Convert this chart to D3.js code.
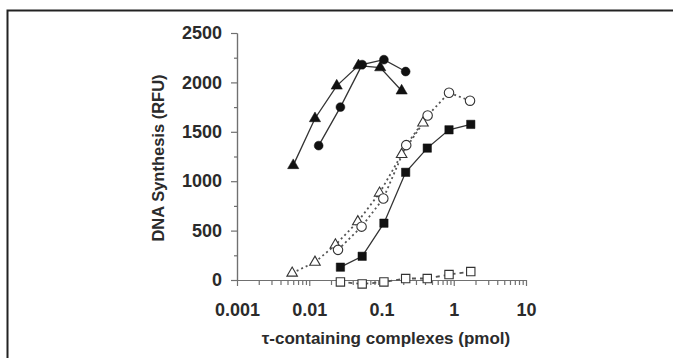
<!DOCTYPE html>
<html>
<head>
<meta charset="utf-8">
<script src="https://cdn.jsdelivr.net/npm/d3@7"></script>
<style>
  body { margin: 0; background: #fff; }
  svg text { font-family: "Liberation Sans", Arial, sans-serif; font-weight: bold; fill: #2b2b2b; }
</style>
</head>
<body>
<div id="chart"></div>
<script>
// tau-complex amounts (pmol) and DNA synthesis (RFU) per series
let triFilledX = [0.006, 0.012, 0.024, 0.048, 0.096, 0.19];
let triFilledY = [1160, 1635, 1965, 2170, 2150, 1915];

let circFilledX = [0.0135, 0.027, 0.054, 0.108, 0.216];
let circFilledY = [1360, 1750, 2180, 2230, 2110];

let sqFilledX = [0.027, 0.054, 0.108, 0.216, 0.43, 0.86, 1.72];
let sqFilledY = [130, 240, 575, 1090, 1335, 1520, 1575];

let circOpenX = [0.025, 0.053, 0.106, 0.22, 0.435, 0.86, 1.68];
let circOpenY = [305, 540, 825, 1365, 1665, 1895, 1815];

let triOpenX = [0.0058, 0.012, 0.023, 0.047, 0.094, 0.19, 0.375];
let triOpenY = [70, 180, 355, 590, 880, 1270, 1590];

let sqOpenX = [0.027, 0.054, 0.108, 0.216, 0.43, 0.86, 1.72];
let sqOpenY = [-20, -40, -20, 15, 15, 55, 85];

let yTicks = [0, 500, 1000, 1500, 2000, 2500];
let yMinorTicks = [250, 750, 1250, 1750, 2250];
let xTicks = [0.001, 0.01, 0.1, 1, 10];
let xTickLabels = ["0.001", "0.01", "0.1", "1", "10"];

let w = 673, h = 358;
let svg = d3.select("#chart").append("svg")
  .attr("width", w)
  .attr("height", h);

// outer frame (left + top)
svg.append("path")
  .attr("d", "M7.5," + h + "V10.5H" + w)
  .attr("fill", "none")
  .attr("stroke", "#222")
  .attr("stroke-width", 2);

let xScale = d3.scaleLog().domain([0.001, 10]).range([237, 526]);
let yScale = d3.scaleLinear().domain([0, 2500]).range([280, 33]);

// minor x ticks 2..9 in each decade
let xMinorTicks = [];
xScale.ticks().forEach(function(t) {
  if (xTicks.indexOf(t) < 0) xMinorTicks.push(t);
});

let axisColor = "#707070";

let xAxis = d3.axisBottom(xScale)
  .tickValues(xTicks)
  .tickFormat(function(d, i) { return xTickLabels[i]; })
  .tickSize(6)
  .tickSizeOuter(0)
  .tickPadding(17);

let xMinor = d3.axisBottom(xScale)
  .tickValues(xMinorTicks)
  .tickFormat("")
  .tickSize(5)
  .tickSizeOuter(0);

let yAxis = d3.axisLeft(yScale)
  .tickValues(yTicks)
  .tickFormat(d3.format("d"))
  .tickSize(6)
  .tickSizeOuter(0)
  .tickPadding(9);

let yMinor = d3.axisLeft(yScale)
  .tickValues(yMinorTicks)
  .tickFormat("")
  .tickSize(3)
  .tickSizeOuter(0);

function styleAxis(g) {
  g.selectAll("path, line").attr("stroke", axisColor).attr("stroke-width", 1.2);
  g.selectAll("text").attr("font-size", "18px").attr("fill", "#2b2b2b")
    .attr("font-family", "Liberation Sans, Arial, sans-serif");
}

svg.append("g").attr("transform", "translate(0,280)").call(xMinor).call(styleAxis);
svg.append("g").attr("transform", "translate(0,280)").call(xAxis).call(styleAxis);
svg.append("g").attr("transform", "translate(237,0)").call(yMinor).call(styleAxis);
svg.append("g").attr("transform", "translate(237,0)").call(yAxis).call(styleAxis);

// axis titles
svg.append("text")
  .attr("transform", "translate(164,158) rotate(-90)")
  .attr("text-anchor", "middle")
  .attr("font-size", "16.5px")
  .text("DNA Synthesis (RFU)");

svg.append("text")
  .attr("x", 386)
  .attr("y", 344)
  .attr("text-anchor", "middle")
  .attr("font-size", "17px")
  .text("\u03c4-containing complexes (pmol)");

let series = [
  { xs: sqOpenX, ys: sqOpenY, shape: d3.symbolSquare, size: 70, filled: false, dash: "4,4" },
  { xs: triOpenX, ys: triOpenY, shape: d3.symbolTriangle, size: 48, filled: false, dash: "2,3" },
  { xs: circOpenX, ys: circOpenY, shape: d3.symbolCircle, size: 70, filled: false, dash: "2,3" },
  { xs: sqFilledX, ys: sqFilledY, shape: d3.symbolSquare, size: 70, filled: true, dash: null },
  { xs: circFilledX, ys: circFilledY, shape: d3.symbolCircle, size: 62, filled: true, dash: null },
  { xs: triFilledX, ys: triFilledY, shape: d3.symbolTriangle, size: 55, filled: true, dash: null }
];

let line = d3.line()
  .x(function(d) { return xScale(d[0]); })
  .y(function(d) { return yScale(d[1]); });

series.forEach(function(s) {
  let pts = s.xs.map(function(x, i) { return [x, s.ys[i]]; });
  svg.append("path")
    .datum(pts)
    .attr("d", line)
    .attr("fill", "none")
    .attr("stroke", s.filled ? "#333" : "#555")
    .attr("stroke-width", s.filled ? 1.3 : 1.8)
    .attr("stroke-dasharray", s.dash);
});

series.forEach(function(s) {
  let pts = s.xs.map(function(x, i) { return [x, s.ys[i]]; });
  svg.selectAll(null)
    .data(pts)
    .enter()
    .append("path")
    .attr("d", d3.symbol().type(s.shape).size(s.size))
    .attr("transform", function(d) {
      return "translate(" + xScale(d[0]) + "," + yScale(d[1]) + ")";
    })
    .attr("fill", s.filled ? "#111" : "#fff")
    .attr("stroke", s.filled ? "#111" : "#333")
    .attr("stroke-width", s.filled ? 0.5 : 1.1);
});
</script>
</body>
</html>
